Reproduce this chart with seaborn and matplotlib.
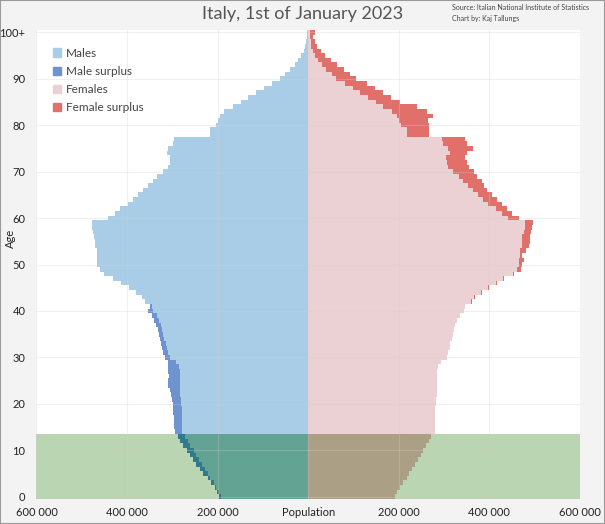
import numpy as np
import pandas as pd
import seaborn as sns
import matplotlib.pyplot as plt
from matplotlib.patches import Patch, Rectangle

# population by single year of age, thousands
ages = list(range(101))
males = [198, 202, 206, 215, 222, 233, 239, 248, 255, 262,
         268, 277, 283, 287, 294, 296, 296, 296, 298, 298,
         299, 301, 303, 306, 309, 309, 307, 309, 309, 310,
         316, 320, 322, 325, 327, 329, 331, 336, 340, 345,
         353, 350, 360, 367, 381, 396, 414, 430, 451, 460,
         466, 466, 467, 467, 471, 471, 473, 476, 478, 478,
         441, 427, 415, 397, 386, 375, 364, 353, 342, 333,
         320, 309, 306, 305, 312, 309, 298, 296, 217, 217,
         204, 200, 195, 185, 166, 149, 132, 115, 98, 81,
         62, 52, 40, 30, 22, 15, 10, 7, 5, 3, 3]
females = [192, 196, 203, 209, 217, 222, 229, 235, 242, 248,
           253, 261, 266, 271, 279, 279, 279, 279, 279, 279,
           281, 281, 284, 284, 284, 284, 284, 284, 286, 292,
           306, 309, 312, 314, 318, 320, 322, 324, 329, 334,
           343, 345, 362, 369, 384, 399, 417, 433, 454, 469,
           472, 476, 472, 480, 487, 489, 489, 491, 494, 497,
           465, 450, 439, 428, 417, 406, 395, 387, 384, 373,
           365, 354, 351, 347, 351, 364, 351, 347, 267, 266,
           266, 265, 275, 263, 241, 203, 182, 165, 148, 130,
           105, 92, 78, 64, 50, 38, 28, 20, 14, 10, 16]
child_limit = 14

x_ticks = [-600, -400, -200, 0, 200, 400, 600]
x_labels = ["600 000", "400 000", "200 000", "Population", "200 000", "400 000", "600 000"]
y_ticks = list(range(0, 101, 10))
y_labels = [str(a) for a in y_ticks[:-1]] + ["100+"]

# colours: adult / child (under the green band)
c_male = ("#a9cde7", "#62a394")
c_male_sur = ("#6f93cf", "#2f7a8c")
c_fem = ("#ebd1d3", "#ab9f85")
c_fem_sur = ("#e1706b", "#a8665a")

df = pd.DataFrame({"age": ages, "males": males, "females": females})
df["common"] = df[["males", "females"]].min(axis=1)
df["group"] = np.where(df["age"] < child_limit, "child", "adult")

sns.set_style("white")
plt.rcParams["font.family"] = ["Lato", "DejaVu Sans"]

fig, ax = plt.subplots(figsize=(6.05, 5.24), dpi=100)
fig.patch.set_facecolor("#f3f3f3")
ax.set_facecolor("white")
fig.subplots_adjust(left=0.0603, right=0.9587, bottom=0.0477, top=0.9427)

ax.axhspan(-0.5, child_limit - 0.5, color="#bad5b2", lw=0, zorder=0)


def layer(col, sign, colors):
    d = df.assign(v=sign * df[col])
    sns.barplot(data=d, x="v", y="age", hue="group",
                palette={"adult": colors[0], "child": colors[1]},
                orient="y", native_scale=True, width=1.02, dodge=False,
                saturation=1, errorbar=None, legend=False, linewidth=0,
                antialiased=False, ax=ax)


layer("males", -1, c_male_sur)
layer("common", -1, c_male)
layer("females", 1, c_fem_sur)
layer("common", 1, c_fem)

ax.set_xlim(-600, 600)
ax.set_ylim(-0.5, 100.5)
ax.set_xticks(x_ticks)
ax.set_xticklabels(x_labels)
ax.set_yticks(y_ticks)
ax.set_yticklabels(y_labels)
ax.set_xlabel("")
ax.set_ylabel("")
ax.tick_params(length=0, labelsize=8, labelcolor="#222222")
ax.tick_params(axis="x", pad=6)
ax.tick_params(axis="y", pad=8)
ax.grid(True, color="#d0d0d0", lw=0.8, alpha=0.3)
ax.set_axisbelow(False)
sns.despine(ax=ax, left=True, bottom=True)

handles = [Patch(color=c_male[0], label="Males"),
           Patch(color=c_male_sur[0], label="Male surplus"),
           Patch(color=c_fem[0], label="Females"),
           Patch(color=c_fem_sur[0], label="Female surplus")]
ax.legend(handles=handles, loc="upper left", bbox_to_anchor=(0.01, 0.985),
          frameon=False, fontsize=8.5, labelcolor="#444444",
          handlelength=0.7, handleheight=0.7, handletextpad=0.4, labelspacing=0.6)

fig.text(0.5, 1 - 14 / 524, "Italy, 1st of January 2023", ha="center", va="center",
         fontsize=13, color="#555555")
fig.text(452 / 605, 1 - 8 / 524, "Source: Italian National Institute of Statistics",
         fontsize=5, va="center", color="#444444")
fig.text(452 / 605, 1 - 18 / 524, "Chart by: Kaj Tallungs",
         fontsize=5, va="center", color="#444444")
fig.text(10 / 605, 1 - 238 / 524, "Age", rotation=90, ha="center", va="center",
         fontsize=8, color="#222222")
fig.patches.append(Rectangle((0, 0), 1, 1, transform=fig.transFigure, fill=False,
                             edgecolor="#9a9a9a", lw=1.5))

fig.savefig("out.png", dpi=100, facecolor=fig.get_facecolor())
